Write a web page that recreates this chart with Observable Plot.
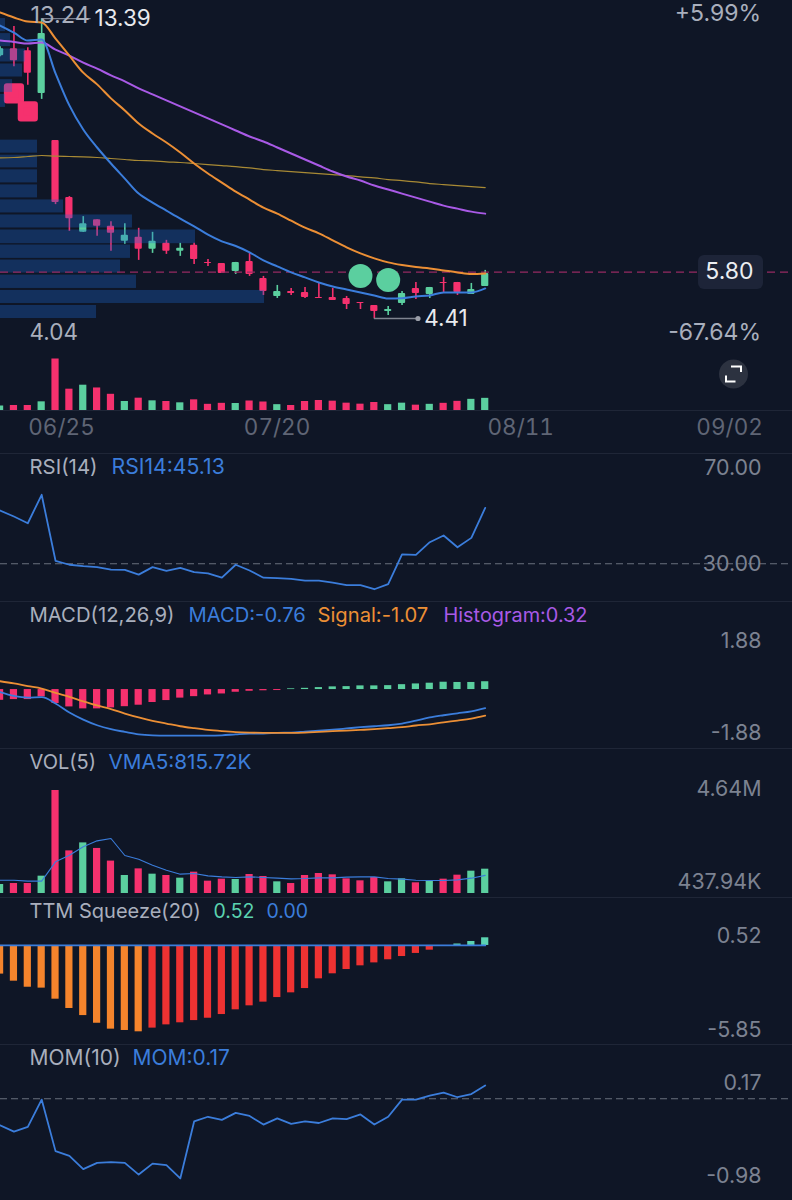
<!DOCTYPE html>
<html><head><meta charset="utf-8">
<script src="https://cdn.jsdelivr.net/npm/d3@7"></script>
<script src="https://cdn.jsdelivr.net/npm/@observablehq/plot@0.6"></script>
<style>html,body{margin:0;padding:0;background:#0f1626}svg{display:block}#c{width:792px}</style>
</head><body><div id="c"></div>
<script>
// ---- candles ----
const openPrice  = [12.28,12.49,12.43,11.15,9.74,8.03,6.99,7.37,7.17,6.72,6.84,6.48,6.66,6.42,6.60,6.09,6.06,5.82,6.12,5.61,5.07,5.22,5.19,5.04,5.04,5.01,4.89,4.80,4.62,4.86,5.31,5.13,5.49,5.49,5.13,5.37];
const closePrice = [12.49,12.13,11.75,12.94,7.88,7.40,7.25,7.17,6.96,6.90,6.48,6.72,6.42,6.51,6.18,6.06,5.76,6.09,5.73,5.22,5.22,5.16,5.04,5.01,4.95,4.83,4.86,4.62,4.68,5.16,5.16,5.34,5.46,5.19,5.28,5.76];
const highPrice  = [12.55,13.15,12.52,13.39,9.74,8.06,7.46,7.37,7.31,7.25,7.11,6.99,6.75,6.66,6.66,6.18,6.06,6.09,6.36,5.67,5.40,5.31,5.34,5.46,5.31,5.07,4.89,4.80,4.77,5.22,5.49,5.34,5.64,5.49,5.46,5.85];
const lowPrice   = [12.25,11.95,11.39,10.97,7.82,7.02,6.99,6.87,6.42,6.63,6.15,6.36,6.33,6.27,6.03,5.97,5.76,5.73,5.67,5.10,5.01,5.10,5.01,5.01,4.95,4.68,4.68,4.41,4.50,4.80,4.98,5.01,5.19,5.10,5.13,5.37];
// ---- moving averages ----
const maBlue   = [13.18,12.97,12.73,12.76,11.75,10.79,10.07,9.53,9.05,8.60,8.15,7.88,7.64,7.40,7.17,6.92,6.72,6.58,6.39,6.15,5.97,5.79,5.64,5.49,5.37,5.28,5.19,5.10,5.01,5.02,5.07,5.10,5.19,5.19,5.19,5.31];
const maOrange = [13.57,13.42,13.30,13.27,12.79,12.28,11.77,11.42,11.00,10.64,10.25,9.95,9.68,9.38,9.05,8.75,8.48,8.21,7.97,7.73,7.55,7.34,7.13,6.96,6.75,6.54,6.36,6.21,6.09,6.01,5.95,5.91,5.85,5.79,5.74,5.76];
const maPurple = [12.73,12.69,12.64,12.67,12.46,12.28,12.07,11.89,11.69,11.51,11.30,11.12,10.94,10.76,10.58,10.40,10.22,10.04,9.86,9.71,9.53,9.35,9.17,8.99,8.81,8.66,8.54,8.39,8.27,8.15,8.03,7.91,7.79,7.70,7.61,7.55];
const maGold   = [9.22,9.23,9.26,9.29,9.27,9.26,9.25,9.23,9.20,9.17,9.14,9.13,9.10,9.08,9.05,9.02,8.99,8.96,8.92,8.87,8.84,8.81,8.78,8.75,8.72,8.69,8.65,8.62,8.57,8.54,8.50,8.45,8.42,8.39,8.36,8.33];
// ---- volume profile ----
const profileHigh   = [13.39,12.94,12.48,12.03,11.56,11.12,9.75,9.30,8.86,8.41,7.96,7.51,7.06,6.61,6.16,5.71,5.25,4.80];
const profileLow    = [13.00,12.55,12.09,11.64,11.18,10.73,9.36,8.92,8.47,8.02,7.57,7.12,6.65,6.21,5.77,5.31,4.86,4.41];
const profileVolume = [0.36,0.72,1.80,1.59,0.87,0.36,2.67,2.67,2.67,2.67,4.55,9.52,14.07,9.38,8.66,9.81,19.05,6.93];
// ---- trade markers ----
const sellBar = [1,2], sellPrice = [11.15,10.61];
const buyBar = [26,28], buyPrice = [5.68,5.56];
// ---- date axis ----
const dateTicks = [4.43,19.98,37.56,52.63];
const dateLabels = ["06/25","07/20","08/11","09/02"];
// ---- indicators ----
const volumeK = [405,450,450,781,4640,1920,2280,2030,1460,811,1110,871,811,691,961,556,646,631,856,766,526,450,811,901,841,661,571,721,526,661,481,556,646,826,1006,1096];
const vma5K   = [600,600,556,556,1426,1727,2102,2372,2478,1712,1547,1276,1051,871,901,796,751,721,751,721,691,661,676,706,706,736,751,751,676,646,600,586,586,616,691,816];
const rsi14 = [52.2,49.7,46.9,58.75,31.25,29.6,29.0,28.6,27.6,27.5,25.5,28.6,27.1,28.3,26.5,26.0,24.2,29.6,27.2,24.2,24.0,23.75,23.0,23.0,22.2,21.1,21.1,19.4,21.5,33.9,33.75,39.0,41.8,36.9,40.8,53.3];
const macdLine = [-.10,-.26,-.33,-.31,-.57,-.94,-1.23,-1.46,-1.62,-1.73,-1.83,-1.87,-1.88,-1.88,-1.88,-1.88,-1.87,-1.83,-1.80,-1.80,-1.77,-1.76,-1.72,-1.68,-1.64,-1.59,-1.54,-1.50,-1.46,-1.39,-1.27,-1.14,-1.05,-.97,-.89,-.76];
const macdSignal = [.34,.25,.14,.04,-.14,-.30,-.48,-.65,-.80,-.98,-1.14,-1.28,-1.39,-1.50,-1.58,-1.65,-1.70,-1.74,-1.76,-1.77,-1.77,-1.77,-1.76,-1.73,-1.70,-1.68,-1.65,-1.62,-1.58,-1.54,-1.47,-1.42,-1.34,-1.27,-1.19,-1.07];
const macdHist = [-.44,-.41,-.41,-.30,-.57,-.71,-.79,-.79,-.75,-.70,-.64,-.53,-.45,-.35,-.29,-.22,-.18,-.11,-.07,-.05,-.04,.03,.05,.08,.11,.12,.15,.15,.16,.20,.23,.26,.30,.29,.29,.32];
const squeeze = [-1.94,-2.42,-2.83,-2.89,-3.64,-4.27,-4.75,-5.27,-5.67,-5.76,-5.85,-5.60,-5.38,-5.24,-5.09,-4.93,-4.68,-4.36,-4.09,-3.84,-3.53,-3.21,-2.92,-2.26,-1.92,-1.63,-1.38,-1.18,-.97,-.75,-.54,-.32,-.02,.10,.27,.52];
const mom10 = [-.34,-.42,-.36,-.01,-.67,-.73,-.90,-.82,-.81,-.82,-.97,-.83,-.85,-1.02,-.29,-.23,-.27,-.18,-.22,-.33,-.25,-.32,-.29,-.31,-.25,-.26,-.20,-.33,-.23,-.01,-.01,.04,.08,.02,.06,.17];

// ---- styles ----
const BG="#0f1626", GREEN="#5bcf9f", PINK="#f5316e", BLUE="#3b7ddb", ORANGE="#ec8f35", PURPLE="#a95ae6", GOLD="#a88a35";
const GRID="#1f2637", AXIS="#7c8291", TITLE="#a9afbd", DASH="#6a707d";
const FONT="Inter, 'Noto Sans', sans-serif";
const TITLE_SIZE = 20, NUM = 22.5, SIDE = 21.4;
const bars = d3.range(36);
const W = 792, xDomain = [0.03, 57.17];
const HALF = 0.26;
const panel = (height, yDomain, marks) => Plot.plot({
  width:W, height, margin:0,
  style:{background:BG,fontFamily:FONT,overflow:"hidden"},
  x:{domain:xDomain,range:[0,W],axis:null},
  y:{domain:yDomain,axis:null,range:[height,0]},
  marks
});
const titleMarks = (parts) => parts.map(([s,x,c,size]) => Plot.text([s],{text:d=>d,frameAnchor:"top-left",textAnchor:"start",lineAnchor:"middle",dx:x-1,dy:14,fill:c,fontSize:size||TITLE_SIZE}));
const rightLabel = (vals,texts,dy=0)=>Plot.text(vals.map((v,i)=>({v,t:texts[i]})),{y:"v",text:"t",frameAnchor:"right",textAnchor:"end",dx:-31,dy,fill:AXIS,fontSize:SIDE});
const sep = (v)=>Plot.ruleY([v],{stroke:GRID,strokeWidth:1});
const candleColor = i => closePrice[i]>=openPrice[i]?GREEN:PINK;
const volRect = (vals)=>Plot.rect(bars,{x1:i=>i-HALF,x2:i=>i+HALF,y1:()=>0,y2:i=>vals[i],fill:candleColor});
const ln = (vals,stroke,w=1.8,curve="linear")=>Plot.line(bars,{x:i=>i,y:i=>vals[i],stroke,strokeWidth:w,curve});
const lbl = (s,x,dy,c,size=NUM)=>Plot.text([s],{text:d=>d,frameAnchor:"top-left",textAnchor:"start",lineAnchor:"middle",dx:x,dy,fill:c,fontSize:size});

// ---- price panel (0..350) ----
const pricePanel = panel(350,[3.452,13.931],[
  Plot.dot(sellBar.map((b,i)=>({b,p:sellPrice[i]})),{x:"b",y:"p",symbol:"square",r:8,fill:PINK,stroke:PINK,strokeWidth:6,strokeLinejoin:"round"}),
  Plot.ruleX(bars,{x:i=>i,y1:i=>lowPrice[i],y2:i=>highPrice[i],stroke:candleColor,strokeWidth:1.6}),
  Plot.rect(bars,{x1:i=>i-HALF,x2:i=>i+HALF,y1:i=>openPrice[i],y2:i=>closePrice[i],fill:candleColor,rx:1}),
  Plot.rect(profileVolume.map((v,i)=>({v,a:profileLow[i],b:profileHigh[i]})),{x1:()=>xDomain[0],x2:d=>xDomain[0]+d.v,y1:"a",y2:"b",fill:"#1b6ad5",fillOpacity:.32}),
  Plot.ruleY([5.80],{stroke:"#962a62",strokeWidth:1.3,strokeDasharray:"8,5"}),
  ln(maGold,GOLD,1.2,"monotone-x"), ln(maPurple,PURPLE,2,"monotone-x"), ln(maOrange,ORANGE,2,"monotone-x"), ln(maBlue,BLUE,2,"monotone-x"),
  Plot.dot(buyBar.map((b,i)=>({b,p:buyPrice[i]})),{x:"b",y:"p",r:12,fill:GREEN}),
  Plot.line([3,6.5],{x:d=>d,y:()=>13.39,stroke:"#7a8090",strokeWidth:1.2}),
  Plot.line([27,30.15],{x:d=>d,y:()=>4.41,stroke:"#7f8490",strokeWidth:1.3}),
  Plot.dot([30.15],{x:d=>d,y:()=>4.41,r:2.6,fill:"#9a9ea8"}),
  Plot.text(["4.41"],{x:()=>30.6,y:()=>4.41,text:d=>d,textAnchor:"start",fill:"#e8eaee",fontSize:NUM}),
  lbl("13.24",30,15,"#a9afbd",23.5),
  lbl("13.39",94,18,"#e8eaee"),
  lbl("4.04",29,332,"#a9afbd"),
  Plot.text(["+5.99%"],{text:d=>d,frameAnchor:"top-right",textAnchor:"end",lineAnchor:"middle",dx:-31.5,dy:13,fill:"#a9afbd",fontSize:23}),
  Plot.text(["-67.64%"],{text:d=>d,frameAnchor:"top-right",textAnchor:"end",lineAnchor:"middle",dx:-31.5,dy:332,fill:"#a9afbd",fontSize:23}),
  Plot.rect([0],{x1:()=>50.39,x2:()=>55.08,y1:()=>5.28,y2:()=>6.30,fill:"#1d2438",rx:6}),
  Plot.text(["5.80"],{text:d=>d,y:()=>5.80,frameAnchor:"right",textAnchor:"end",dx:-39,fill:"#eceef2",fontSize:23})
]);

// ---- mini volume + dates (350..453) ----
const expand = {draw(c){c.moveTo(-2.5,-7.5);c.lineTo(7.5,-7.5);c.lineTo(7.5,-2);c.moveTo(-7.5,1.5);c.lineTo(-7.5,7.5);c.lineTo(2,7.5);}};
const miniPanel = Plot.plot({
  width:W,height:103,marginTop:0,marginLeft:0,marginRight:0,marginBottom:43,
  style:{background:BG,fontFamily:FONT,overflow:"hidden"},
  x:{domain:xDomain,range:[0,W],axis:null},
  y:{domain:[0,5406],range:[60,0],axis:null},
  marks:[
    Plot.ruleY([0],{stroke:GRID}),
    volRect(volumeK),
    Plot.axisX({ticks:dateTicks,tickFormat:(d,i)=>dateLabels[i],tickSize:0,tickPadding:9,fontSize:22.5,fill:"#5f6575",anchor:"bottom",textAnchor:"middle"}),
    Plot.dot([0],{frameAnchor:"top-right",dx:-59,dy:23.5,r:14.5,fill:"#2c3240"}),
    Plot.dot([0],{frameAnchor:"top-right",dx:-59,dy:23.5,r:7,symbol:expand,stroke:"#fff",strokeWidth:2,fill:"none"})
  ]
});

// ---- RSI (453..601) ----
const rsiPanel = panel(148,[14.29,75.96],[
  sep(75.96),
  Plot.ruleY([30],{stroke:DASH,strokeWidth:1.1,strokeDasharray:"7,4"}),
  ln(rsi14,BLUE,1.8),
  ...titleMarks([["RSI(14)",30,TITLE,20.4],["RSI14:45.13",112,BLUE,21.2]]),
  rightLabel([70,30],["70.00","30.00"])
]);

// ---- MACD (601..748) ----
const macdPanel = panel(147,[-2.41,3.60],[
  sep(3.60),
  Plot.rect(bars,{x1:i=>i-HALF,x2:i=>i+HALF,y1:()=>0,y2:i=>macdHist[i],fill:i=>macdHist[i]>=0?GREEN:PINK}),
  ln(macdLine,BLUE,1.8,"monotone-x"), ln(macdSignal,ORANGE,1.8,"monotone-x"),
  ...titleMarks([["MACD(12,26,9)",30,TITLE,20.3],["MACD:-0.76",189,BLUE,20.2],["Signal:-1.07",318,ORANGE,20.2],["Histogram:0.32",444,PURPLE,19.9]]),
  rightLabel([1.88,-1.88],["1.88","-1.88"],-2)
]);

// ---- VOL (748..897) ----
const volPanel = panel(149,[-180,6532],[
  sep(6532),
  volRect(volumeK),
  ln(vma5K,BLUE,1.1),
  ...titleMarks([["VOL(5)",30,TITLE,20],["VMA5:815.72K",109,BLUE,20.7]]),
  rightLabel([4640,437.94],["4.64M","437.94K"],-1.5)
]);

// ---- TTM squeeze (897..1044) ----
const ttmColor = i => squeeze[i]>0?"#5bd3b0":(i===0||squeeze[i]<squeeze[i-1]?"#f5842c":"#ee3232");
const ttmPanel = panel(147,[-6.71,3.25],[
  sep(3.25),
  Plot.rect(bars,{x1:i=>i-HALF,x2:i=>i+HALF,y1:()=>0,y2:i=>squeeze[i],fill:ttmColor}),
  Plot.line([0,35],{x:d=>d,y:()=>0,stroke:BLUE,strokeWidth:1.8}),
  ...titleMarks([["TTM Squeeze(20)",30,TITLE,20],["0.52",214,"#5bd3b0",19.5],["0.00",267,BLUE,19.5]]),
  rightLabel([0.52,-5.85],["0.52","-5.85"],-2)
]);

// ---- MOM (1044..1200) ----
const momPanel = panel(156,[-1.302,.695],[
  sep(.695),
  Plot.ruleY([0],{stroke:DASH,strokeWidth:1.1,strokeDasharray:"7,4"}),
  ln(mom10,BLUE,1.8),
  ...titleMarks([["MOM(10)",30,TITLE,21],["MOM:0.17",133,BLUE,21]]),
  rightLabel([0.17],["0.17"],-2),
  rightLabel([-0.98],["-0.98"],1)
]);

const c = document.getElementById("c");
[pricePanel,miniPanel,rsiPanel,macdPanel,volPanel,ttmPanel,momPanel].forEach(p=>c.appendChild(p));
</script>
</body></html>
